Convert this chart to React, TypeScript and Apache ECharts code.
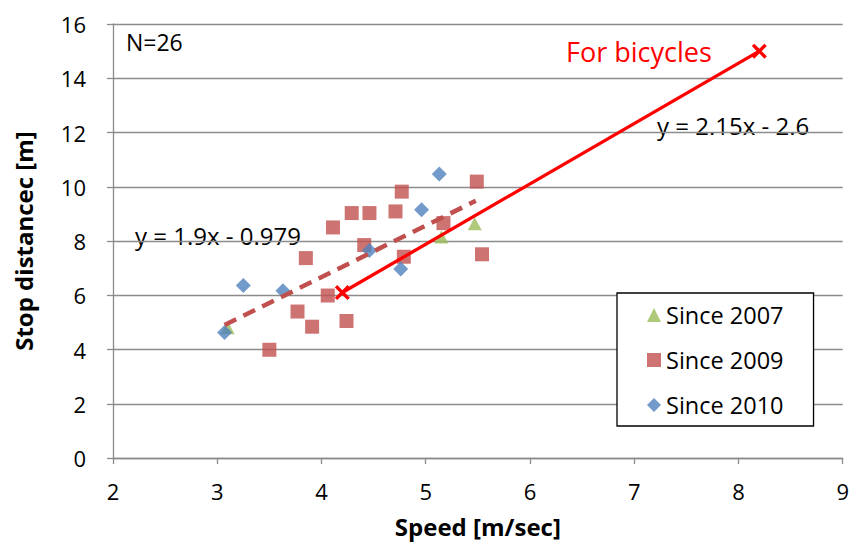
import React, { useEffect, useRef } from "react";
import * as echarts from "echarts";

// Data
const since2007: [number, number][] = [
  [3.1, 4.8],
  [5.15, 8.15],
  [5.47, 8.64],
];
const since2009: [number, number][] = [
  [5.49, 10.19],
  [4.77, 9.82],
  [4.29, 9.03],
  [4.46, 9.03],
  [4.71, 9.09],
  [4.11, 8.5],
  [5.17, 8.66],
  [4.41, 7.85],
  [3.85, 7.37],
  [4.79, 7.42],
  [5.54, 7.51],
  [4.06, 5.99],
  [3.77, 5.4],
  [3.91, 4.84],
  [4.24, 5.05],
  [3.5, 3.99],
];
const since2010: [number, number][] = [
  [5.13, 10.47],
  [4.96, 9.15],
  [4.46, 7.65],
  [4.76, 6.97],
  [3.25, 6.36],
  [3.63, 6.17],
  [3.07, 4.63],
];
const trendLine: [number, number][] = [
  [3.07, 4.9],
  [5.48, 9.48],
];
const bicycleLine: [number, number][] = [
  [4.2, 6.1],
  [8.2, 15.0],
];
const seriesNames = ["Since 2007", "Since 2009", "Since 2010"];

const FONT = "'Open Sans', sans-serif";
const XMARK =
  "path://M0,1.6 L1.6,0 L5,3.4 L8.4,0 L10,1.6 L6.6,5 L10,8.4 L8.4,10 L5,6.6 L1.6,10 L0,8.4 L3.4,5 Z";

export default function App() {
  const ref = useRef<HTMLDivElement>(null);
  useEffect(() => {
    if (!ref.current) return;
    const chart = echarts.init(ref.current, null, { renderer: "svg" });
    chart.setOption({
      animation: false,
      backgroundColor: "#ffffff",
      textStyle: { fontFamily: FONT },
      grid: { left: 113, right: 8, top: 24, bottom: 89 },
      legend: {
        orient: "vertical",
        left: 617,
        top: 293,
        data: [
          { name: seriesNames[0], icon: "triangle" },
          { name: seriesNames[1], icon: "rect" },
          { name: seriesNames[2], icon: "diamond" },
        ],
        itemWidth: 14,
        itemHeight: 14,
        itemGap: 21,
        padding: [10, 30, 9, 30],
        borderColor: "#000000",
        borderWidth: 1.3,
        backgroundColor: "#ffffff",
        textStyle: { fontFamily: FONT, fontSize: 23.5, color: "#000" },
      },
      xAxis: {
        type: "value",
        min: 2,
        max: 9,
        interval: 1,
        name: "Speed [m/sec]",
        nameLocation: "middle",
        nameGap: 56,
        nameTextStyle: { fontFamily: FONT, fontSize: 24, fontWeight: "bold", color: "#000" },
        axisLine: { show: true, lineStyle: { color: "#8c8c8c", width: 1.3 } },
        axisTick: { show: true, length: 6, lineStyle: { color: "#8c8c8c", width: 1.3 } },
        axisLabel: { fontFamily: FONT, fontSize: 22, color: "#000", margin: 22 },
        splitLine: { show: false },
      },
      yAxis: {
        type: "value",
        min: 0,
        max: 16,
        interval: 2,
        name: "Stop distancec [m]",
        nameLocation: "middle",
        nameGap: 78,
        nameTextStyle: { fontFamily: FONT, fontSize: 24, fontWeight: "bold", color: "#000" },
        axisLine: { show: true, lineStyle: { color: "#8c8c8c", width: 1.3 } },
        axisTick: { show: true, length: 6, lineStyle: { color: "#8c8c8c", width: 1.3 } },
        axisLabel: { fontFamily: FONT, fontSize: 22, color: "#000", margin: 27 },
        splitLine: { show: true, lineStyle: { color: "#8c8c8c", width: 1.3 } },
      },
      series: [
        {
          name: seriesNames[0],
          type: "scatter",
          data: since2007,
          symbol: "triangle",
          symbolSize: [14, 13],
          itemStyle: { color: "#9BBB59" },
          z: 2,
        },
        {
          name: seriesNames[1],
          type: "scatter",
          data: since2009,
          symbol: "rect",
          symbolSize: 14,
          itemStyle: { color: "#C0504D" },
          z: 3,
        },
        {
          name: seriesNames[2],
          type: "scatter",
          data: since2010,
          symbol: "diamond",
          symbolSize: 15,
          itemStyle: { color: "#4F81BD" },
          z: 4,
        },
        {
          name: "trend",
          type: "line",
          data: trendLine,
          showSymbol: false,
          symbol: "none",
          lineStyle: { color: "#C0504D", width: 4.5, type: [13, 8] },
          z: 5,
          silent: true,
        },
        {
          name: "bicycles",
          type: "line",
          data: bicycleLine,
          symbol: XMARK,
          symbolSize: 15,
          itemStyle: { color: "#FF0000" },
          lineStyle: { color: "#FF0000", width: 3.3 },
          z: 6,
          silent: true,
        },
      ],
      graphic: [
        {
          type: "text",
          left: 126,
          top: 30,
          style: { text: "N=26", font: `23px ${FONT}`, fill: "#000" },
        },
        {
          type: "text",
          left: 135,
          top: 223,
          style: { text: "y = 1.9x - 0.979", font: `24px ${FONT}`, fill: "#000" },
        },
        {
          type: "text",
          left: 657,
          top: 113,
          style: { text: "y = 2.15x - 2.6", font: `24px ${FONT}`, fill: "#000" },
        },
        {
          type: "text",
          left: 566,
          top: 38,
          style: { text: "For bicycles", font: `27px ${FONT}`, fill: "#FF0000" },
        },
      ],
    });
    return () => chart.dispose();
  }, []);
  return (
    <div
      ref={ref}
      style={{ position: "absolute", left: 0, top: 0, width: 852, height: 547 }}
    />
  );
}
